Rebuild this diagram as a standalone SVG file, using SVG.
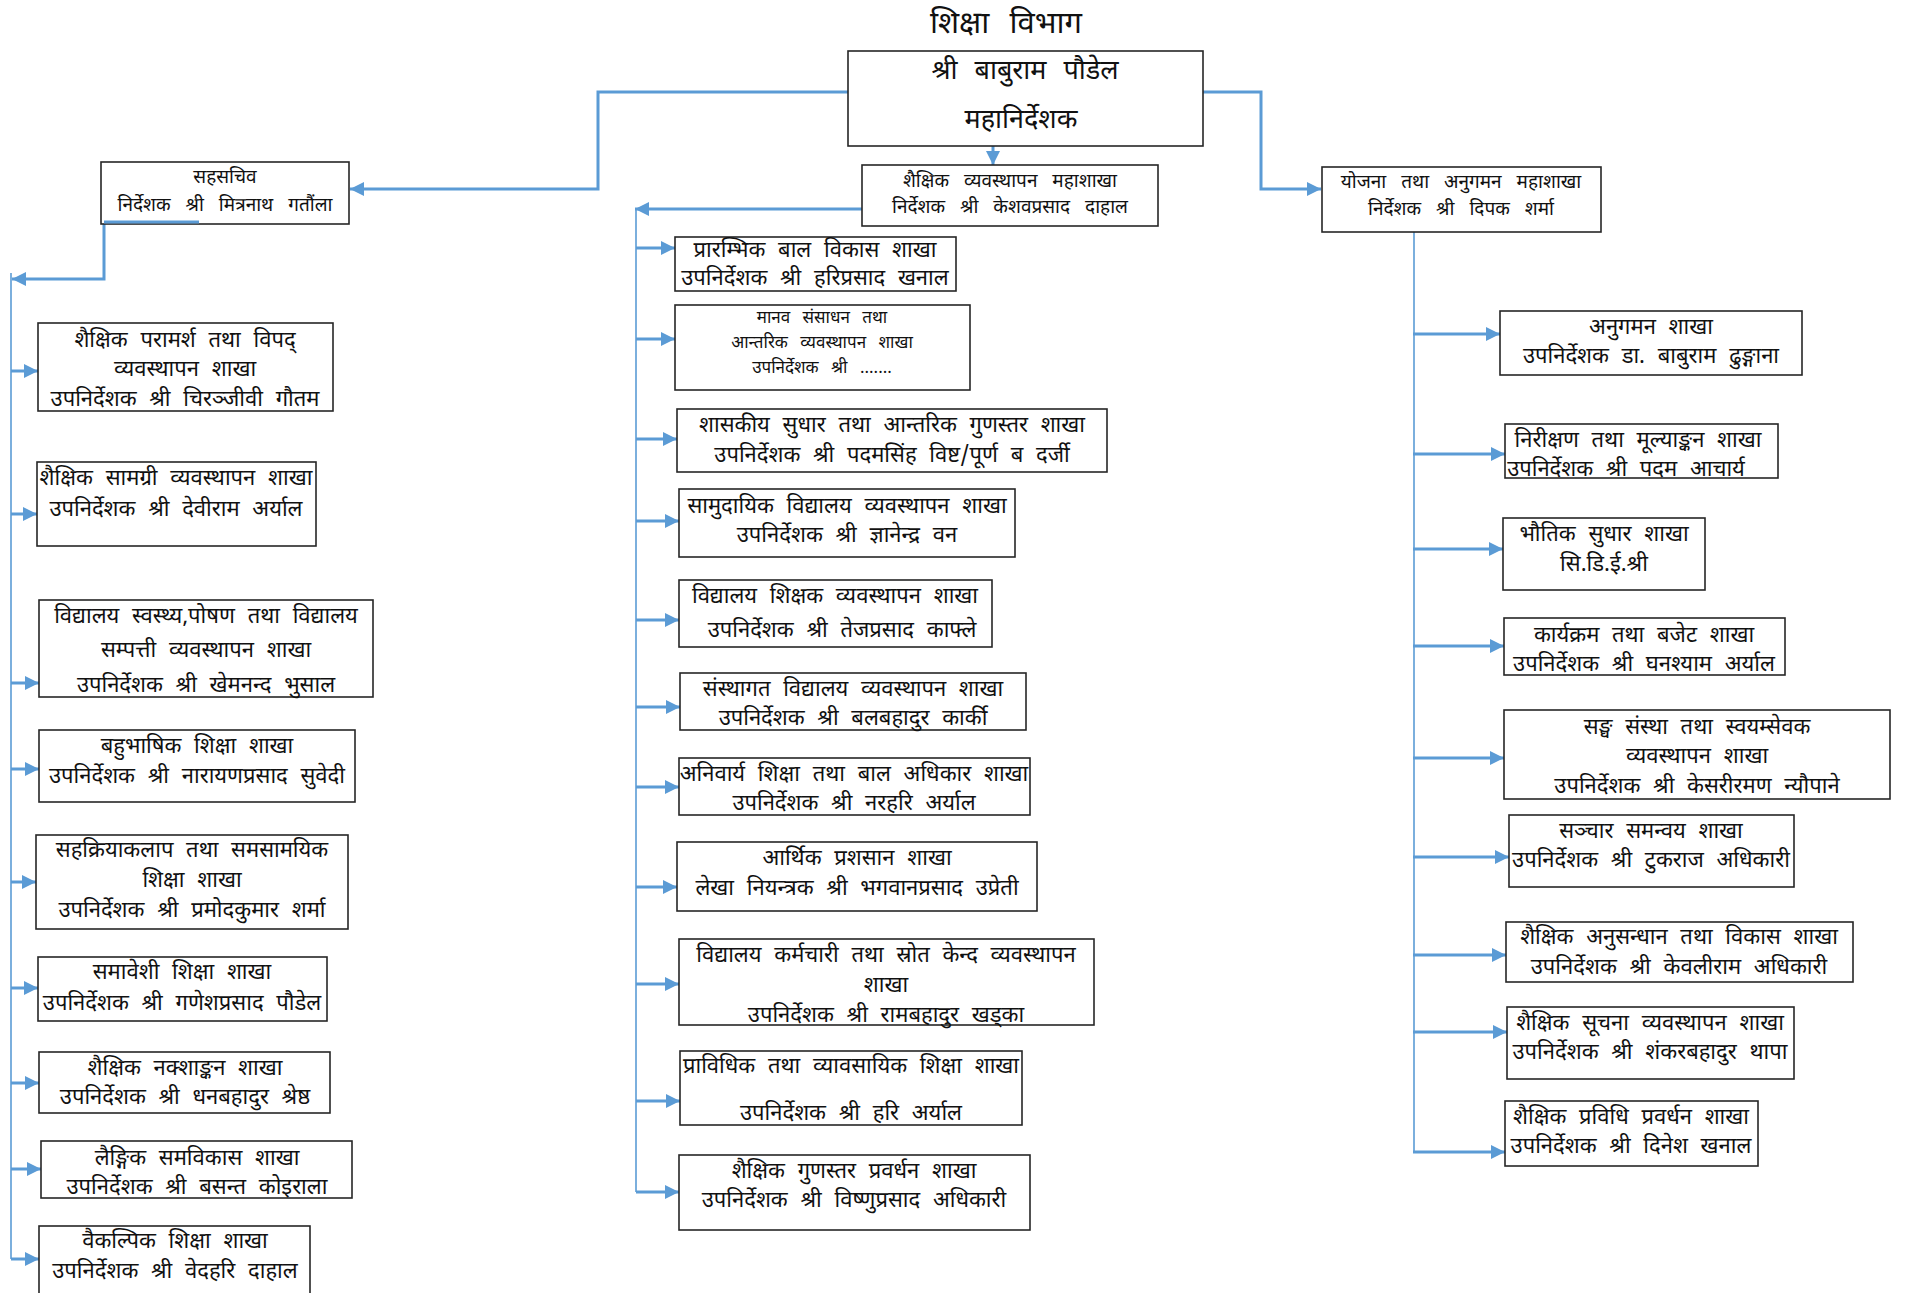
<svg xmlns="http://www.w3.org/2000/svg" width="1905" height="1293" viewBox="0 0 1905 1293">
<style>
.bx{fill:#fff;stroke:#262626;stroke-width:1.6}
text{font-family:"Noto Sans Devanagari","Noto Sans","Noto Serif Devanagari",sans-serif;fill:#111;text-anchor:middle;font-size:22px;word-spacing:7px}
.hd{font-size:19px;word-spacing:10px}
.sm{font-size:17px;word-spacing:8px}
.big{font-size:27px;word-spacing:10px}
.ttl{font-size:31px;word-spacing:12px}
.cn{fill:none;stroke:#5B9BD5;stroke-width:3}
.tr{fill:none;stroke:#5B9BD5;stroke-width:1.6}
</style>
<defs>
<marker id="ah" viewBox="0 0 10 10" refX="10" refY="5" markerWidth="14" markerHeight="15" markerUnits="userSpaceOnUse" orient="auto"><path d="M0,0L10,5L0,10z" fill="#5B9BD5"/></marker>
</defs>
<rect width="1905" height="1293" fill="#fff"/>
<text class="ttl" x="1006" y="33">शिक्षा विभाग</text>
<g id="connectors">
<path class="cn" d="M848,92H598V189H350" marker-end="url(#ah)"/>
<path class="cn" d="M1198,92H1261V189H1321" marker-end="url(#ah)"/>
<path class="cn" d="M993,146V165" marker-end="url(#ah)"/>
<path class="cn" d="M862,209H635" marker-end="url(#ah)"/>
<path class="cn" d="M199,222H104V279H12" marker-end="url(#ah)"/>
<path class="tr" d="M11,273V1259"/>
<path class="tr" d="M636,209V1192"/>
<path class="tr" d="M1414,232V1152"/>
<path class="cn" d="M11,371H38" marker-end="url(#ah)"/>
<path class="cn" d="M11,514H37" marker-end="url(#ah)"/>
<path class="cn" d="M11,683H39" marker-end="url(#ah)"/>
<path class="cn" d="M11,769H39" marker-end="url(#ah)"/>
<path class="cn" d="M11,882H36" marker-end="url(#ah)"/>
<path class="cn" d="M11,988H38" marker-end="url(#ah)"/>
<path class="cn" d="M11,1083H39" marker-end="url(#ah)"/>
<path class="cn" d="M11,1169H41" marker-end="url(#ah)"/>
<path class="cn" d="M11,1259H39" marker-end="url(#ah)"/>
<path class="cn" d="M636,248H675" marker-end="url(#ah)"/>
<path class="cn" d="M636,339H675" marker-end="url(#ah)"/>
<path class="cn" d="M636,439H677" marker-end="url(#ah)"/>
<path class="cn" d="M636,521H679" marker-end="url(#ah)"/>
<path class="cn" d="M636,620H679" marker-end="url(#ah)"/>
<path class="cn" d="M636,707H680" marker-end="url(#ah)"/>
<path class="cn" d="M636,787H679" marker-end="url(#ah)"/>
<path class="cn" d="M636,887H677" marker-end="url(#ah)"/>
<path class="cn" d="M636,984H679" marker-end="url(#ah)"/>
<path class="cn" d="M636,1101H680" marker-end="url(#ah)"/>
<path class="cn" d="M636,1192H679" marker-end="url(#ah)"/>
<path class="cn" d="M1413,334H1500" marker-end="url(#ah)"/>
<path class="cn" d="M1413,454H1505" marker-end="url(#ah)"/>
<path class="cn" d="M1413,549H1503" marker-end="url(#ah)"/>
<path class="cn" d="M1413,646H1504" marker-end="url(#ah)"/>
<path class="cn" d="M1413,758H1504" marker-end="url(#ah)"/>
<path class="cn" d="M1413,857H1509" marker-end="url(#ah)"/>
<path class="cn" d="M1413,955H1506" marker-end="url(#ah)"/>
<path class="cn" d="M1413,1032H1507" marker-end="url(#ah)"/>
<path class="cn" d="M1413,1152H1505" marker-end="url(#ah)"/>
</g>
<g id="n-dg"><rect class="bx" x="848" y="51" width="355" height="95"/><text class="big" x="1025" y="79">श्री बाबुराम पौडेल</text><text class="big" x="1021" y="128">महानिर्देशक</text></g>
<g id="n-sahasachiv"><rect class="bx" x="101" y="162" width="248" height="62"/><text class="hd" x="225" y="183">सहसचिव</text><text class="hd" x="225" y="211">निर्देशक श्री मित्रनाथ गतौंला</text></g>
<path class="cn" d="M199,222H104"/>
<g id="n-l1"><rect class="bx" x="38" y="323" width="295" height="88"/><text x="185" y="347">शैक्षिक परामर्श तथा विपद्</text><text x="185" y="376">व्यवस्थापन शाखा</text><text x="185" y="406">उपनिर्देशक श्री चिरञ्जीवी गौतम</text></g>
<g id="n-l2"><rect class="bx" x="37" y="462" width="279" height="84"/><text x="176" y="485">शैक्षिक सामग्री व्यवस्थापन शाखा</text><text x="176" y="516">उपनिर्देशक श्री देवीराम अर्याल</text></g>
<g id="n-l3"><rect class="bx" x="39" y="600" width="334" height="97"/><text x="206" y="623">विद्यालय स्वस्थ्य,पोषण तथा विद्यालय</text><text x="206" y="657">सम्पत्ती व्यवस्थापन शाखा</text><text x="206" y="692">उपनिर्देशक श्री खेमनन्द भुसाल</text></g>
<g id="n-l4"><rect class="bx" x="39" y="730" width="316" height="72"/><text x="197" y="753">बहुभाषिक शिक्षा शाखा</text><text x="197" y="783">उपनिर्देशक श्री नारायणप्रसाद सुवेदी</text></g>
<g id="n-l5"><rect class="bx" x="36" y="835" width="312" height="94"/><text x="192" y="857">सहक्रियाकलाप तथा समसामयिक</text><text x="192" y="887">शिक्षा शाखा</text><text x="192" y="917">उपनिर्देशक श्री प्रमोदकुमार शर्मा</text></g>
<g id="n-l6"><rect class="bx" x="38" y="957" width="289" height="64"/><text x="182" y="979">समावेशी शिक्षा शाखा</text><text x="182" y="1010">उपनिर्देशक श्री गणेशप्रसाद पौडेल</text></g>
<g id="n-l7"><rect class="bx" x="39" y="1052" width="291" height="61"/><text x="185" y="1075">शैक्षिक नक्शाङ्कन शाखा</text><text x="185" y="1104">उपनिर्देशक श्री धनबहादुर श्रेष्ठ</text></g>
<g id="n-l8"><rect class="bx" x="41" y="1141" width="311" height="57"/><text x="197" y="1165">लैङ्गिक समविकास शाखा</text><text x="197" y="1194">उपनिर्देशक श्री बसन्त कोइराला</text></g>
<g id="n-l9"><rect class="bx" x="39" y="1226" width="271" height="80"/><text x="175" y="1248">वैकल्पिक शिक्षा शाखा</text><text x="175" y="1278">उपनिर्देशक श्री वेदहरि दाहाल</text></g>
<g id="n-c0"><rect class="bx" x="862" y="165" width="296" height="61"/><text class="hd" x="1010" y="187">शैक्षिक व्यवस्थापन महाशाखा</text><text class="hd" x="1010" y="213">निर्देशक श्री केशवप्रसाद दाहाल</text></g>
<g id="n-c1"><rect class="bx" x="675" y="237" width="281" height="54"/><text x="815" y="257">प्रारम्भिक बाल विकास शाखा</text><text x="815" y="285">उपनिर्देशक श्री हरिप्रसाद खनाल</text></g>
<g id="n-c2"><rect class="bx" x="675" y="305" width="295" height="85"/><text class="sm" x="822" y="323">मानव संसाधन तथा</text><text class="sm" x="822" y="348">आन्तरिक व्यवस्थापन शाखा</text><text class="sm" x="822" y="373">उपनिर्देशक श्री .......</text></g>
<g id="n-c3"><rect class="bx" x="677" y="409" width="430" height="63"/><text x="892" y="432">शासकीय सुधार तथा आन्तरिक गुणस्तर शाखा</text><text x="892" y="462">उपनिर्देशक श्री पदमसिंह विष्ट/पूर्ण ब दर्जी</text></g>
<g id="n-c4"><rect class="bx" x="679" y="489" width="336" height="68"/><text x="847" y="513">सामुदायिक विद्यालय व्यवस्थापन शाखा</text><text x="847" y="542">उपनिर्देशक श्री ज्ञानेन्द्र वन</text></g>
<g id="n-c5"><rect class="bx" x="679" y="580" width="313" height="67"/><text x="835" y="603">विद्यालय शिक्षक  व्यवस्थापन शाखा</text><text x="842" y="637">उपनिर्देशक श्री तेजप्रसाद काफ्ले</text></g>
<g id="n-c6"><rect class="bx" x="680" y="673" width="346" height="57"/><text x="853" y="696">संस्थागत विद्यालय व्यवस्थापन शाखा</text><text x="853" y="725">उपनिर्देशक श्री बलबहादुर कार्की</text></g>
<g id="n-c7"><rect class="bx" x="679" y="758" width="351" height="57"/><text x="854" y="781">अनिवार्य शिक्षा तथा बाल अधिकार शाखा</text><text x="854" y="810">उपनिर्देशक श्री नरहरि अर्याल</text></g>
<g id="n-c8"><rect class="bx" x="677" y="842" width="360" height="69"/><text x="857" y="865">आर्थिक प्रशसान शाखा</text><text x="857" y="895">लेखा नियन्त्रक श्री भगवानप्रसाद उप्रेती</text></g>
<g id="n-c9"><rect class="bx" x="679" y="939" width="415" height="86"/><text x="886" y="962">विद्यालय कर्मचारी तथा स्रोत केन्द व्यवस्थापन</text><text x="886" y="992">शाखा</text><text x="886" y="1022">उपनिर्देशक श्री रामबहादुर खड्का</text></g>
<g id="n-c10"><rect class="bx" x="680" y="1051" width="342" height="74"/><text x="851" y="1073">प्राविधिक तथा व्यावसायिक शिक्षा शाखा</text><text x="851" y="1120">उपनिर्देशक श्री    हरि अर्याल</text></g>
<g id="n-c11"><rect class="bx" x="679" y="1155" width="351" height="75"/><text x="854" y="1178">शैक्षिक गुणस्तर प्रवर्धन शाखा</text><text x="854" y="1207">उपनिर्देशक श्री विष्णुप्रसाद अधिकारी</text></g>
<g id="n-r0"><rect class="bx" x="1322" y="167" width="279" height="65"/><text class="hd" x="1461" y="188">योजना तथा अनुगमन महाशाखा</text><text class="hd" x="1461" y="215">निर्देशक श्री दिपक शर्मा</text></g>
<g id="n-r1"><rect class="bx" x="1500" y="311" width="302" height="64"/><text x="1651" y="334">अनुगमन शाखा</text><text x="1651" y="363">उपनिर्देशक डा. बाबुराम ढुङ्गाना</text></g>
<g id="n-r2"><rect class="bx" x="1505" y="424" width="273" height="54"/><text x="1638" y="447">निरीक्षण तथा मूल्याङ्कन शाखा</text><text x="1626" y="476">उपनिर्देशक श्री पदम आचार्य</text></g>
<g id="n-r3"><rect class="bx" x="1503" y="518" width="202" height="72"/><text x="1604" y="541">भौतिक सुधार शाखा</text><text x="1604" y="571">सि.डि.ई.श्री</text></g>
<g id="n-r4"><rect class="bx" x="1504" y="618" width="281" height="57"/><text x="1644" y="642">कार्यक्रम तथा बजेट शाखा</text><text x="1644" y="671">उपनिर्देशक श्री घनश्याम अर्याल</text></g>
<g id="n-r5"><rect class="bx" x="1504" y="710" width="386" height="89"/><text x="1697" y="734">सङ्घ संस्था तथा स्वयम्सेवक</text><text x="1697" y="763">व्यवस्थापन शाखा</text><text x="1697" y="793">उपनिर्देशक श्री केसरीरमण न्यौपाने</text></g>
<g id="n-r6"><rect class="bx" x="1509" y="815" width="285" height="72"/><text x="1651" y="838">सञ्चार समन्वय शाखा</text><text x="1651" y="867">उपनिर्देशक श्री टुकराज अधिकारी</text></g>
<g id="n-r7"><rect class="bx" x="1506" y="922" width="347" height="60"/><text x="1679" y="944">शैक्षिक अनुसन्धान तथा विकास शाखा</text><text x="1679" y="974">उपनिर्देशक श्री केवलीराम अधिकारी</text></g>
<g id="n-r8"><rect class="bx" x="1507" y="1007" width="287" height="72"/><text x="1650" y="1030">शैक्षिक सूचना व्यवस्थापन शाखा</text><text x="1650" y="1059">उपनिर्देशक श्री शंकरबहादुर थापा</text></g>
<g id="n-r9"><rect class="bx" x="1505" y="1101" width="253" height="65"/><text x="1631" y="1124">शैक्षिक  प्रविधि प्रवर्धन शाखा</text><text x="1631" y="1153">उपनिर्देशक श्री दिनेश खनाल</text></g>
</svg>
